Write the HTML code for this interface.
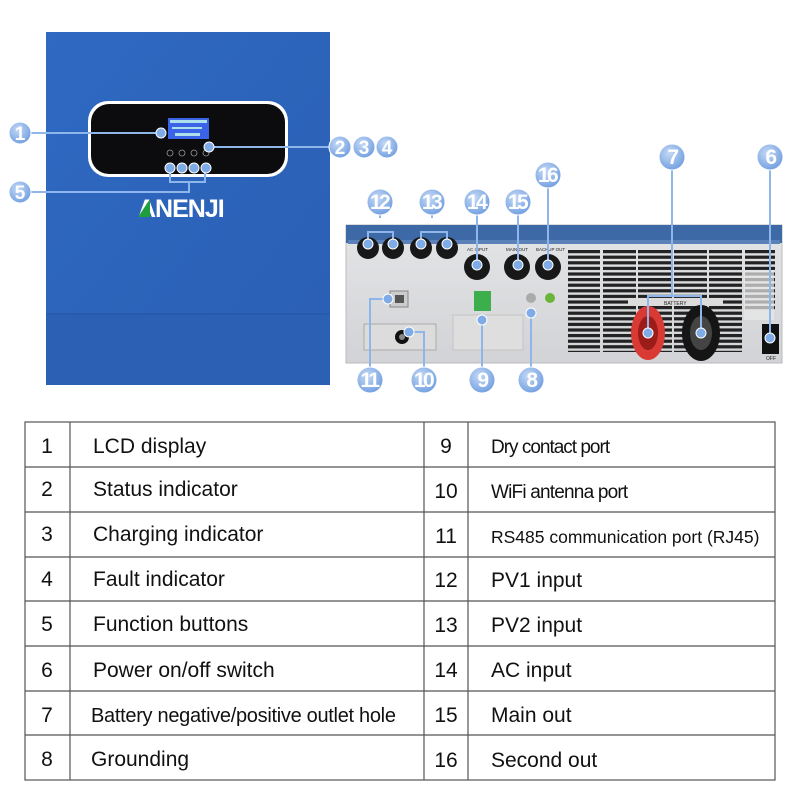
<!DOCTYPE html>
<html><head><meta charset="utf-8"><style>
html,body{margin:0;padding:0;background:#fff;width:800px;height:800px;overflow:hidden}
svg{display:block}
</style></head><body>
<svg width="800" height="800" viewBox="0 0 800 800" xmlns="http://www.w3.org/2000/svg" font-family="Liberation Sans, sans-serif">
<defs>
<linearGradient id="blue" x1="0" y1="0" x2="1" y2="1"><stop offset="0" stop-color="#2f69c2"/><stop offset="1" stop-color="#2a5fb3"/></linearGradient>
<radialGradient id="badge" cx="0.4" cy="0.35" r="0.7"><stop offset="0" stop-color="#c4d9f5"/><stop offset="1" stop-color="#6f9de0"/></radialGradient>
<pattern id="vent" x="0" y="250" width="200" height="5.6" patternUnits="userSpaceOnUse"><rect x="0" y="0" width="200" height="3.2" fill="#222"/></pattern>
<linearGradient id="gray" x1="0" y1="0" x2="0" y2="1"><stop offset="0" stop-color="#e4e5e7"/><stop offset="1" stop-color="#d2d3d6"/></linearGradient>
</defs>
<!-- front inverter -->
<rect x="46" y="32" width="284" height="353" fill="url(#blue)"/>
<rect x="46" y="314" width="284" height="71" fill="#2b60b4"/>
<line x1="46" y1="314" x2="330" y2="314" stroke="#22539f" stroke-width="1"/>
<rect x="88" y="101" width="200" height="76" rx="20" fill="#fff"/>
<rect x="91" y="104" width="194" height="70" rx="18" fill="#0c0c0e"/>
<rect x="168" y="118" width="41" height="21" fill="#3a63e8"/>
<g fill="#cfe" opacity="0.8"><rect x="170" y="120" width="37" height="3"/><rect x="172" y="127" width="30" height="2"/><rect x="175" y="133" width="25" height="3"/></g>
<g fill="none" stroke="#999" stroke-width="0.8"><circle cx="170" cy="153" r="3"/><circle cx="182" cy="153" r="3"/><circle cx="194" cy="153" r="3"/><circle cx="206" cy="153" r="3"/></g>
<text x="138" y="217" font-size="25" font-weight="bold" fill="#fff" letter-spacing="-1">ANENJI</text>
<polygon points="138,217 150,199 150,217" fill="#1e9e3c"/>
<!-- rear panel -->
<rect x="346" y="225" width="436" height="138" fill="url(#gray)" stroke="#bbb"/>
<rect x="346" y="225" width="436" height="18" fill="#3d6aa6"/>
<rect x="348" y="240" width="432" height="4" fill="#5b82b8"/>
<g fill="url(#vent)">
<rect x="568" y="250" width="32" height="102"/><rect x="603" y="250" width="33" height="102"/><rect x="638" y="250" width="34" height="102"/><rect x="674" y="250" width="33" height="102"/><rect x="709" y="250" width="33" height="102"/><rect x="745" y="250" width="30" height="60"/>
</g>
<rect x="744" y="270" width="30" height="50" fill="#e8e8e8" opacity="0.7"/>
<rect x="628" y="298" width="95" height="8" fill="#dcdcdc"/>
<ellipse cx="648" cy="333" rx="17" ry="27" fill="#d93a34"/><ellipse cx="648" cy="333" rx="10" ry="17" fill="#9c1c1a"/>
<ellipse cx="701" cy="333" rx="19" ry="28" fill="#151515"/><ellipse cx="701" cy="333" rx="11" ry="17" fill="#444"/>
<text x="664" y="305" font-size="5" fill="#222">BATTERY</text>
<rect x="762" y="324" width="17" height="30" fill="#111"/>
<text x="766" y="360" font-size="5" fill="#222">OFF</text>
<g fill="#181818">
<circle cx="368" cy="248" r="11"/><circle cx="393" cy="248" r="11"/><circle cx="421" cy="248" r="11"/><circle cx="447" cy="248" r="11"/>
<circle cx="477" cy="267" r="13"/><circle cx="517" cy="267" r="13"/><circle cx="548" cy="267" r="13"/>
</g>
<text x="467" y="251" font-size="4.5" fill="#222">AC INPUT</text><text x="506" y="251" font-size="4.5" fill="#222">MAIN OUT</text><text x="536" y="251" font-size="4.5" fill="#222">BACKUP OUT</text>
<rect x="390" y="291" width="18" height="16" fill="#ccc" stroke="#888"/><rect x="395" y="295" width="9" height="8" fill="#555"/>
<rect x="364" y="324" width="72" height="26" fill="#dcdcdc" stroke="#aaa"/>
<circle cx="402" cy="337" r="7" fill="#111"/><circle cx="402" cy="337" r="3" fill="#888"/>
<rect x="453" y="315" width="70" height="35" fill="#dedede" stroke="#c4c4c4"/>
<rect x="474" y="291" width="17" height="20" fill="#3cae4c"/>
<circle cx="531" cy="298" r="5" fill="#aaa"/><circle cx="550" cy="298" r="5" fill="#6ab43a"/>
<!-- leader lines -->
<g stroke="#8fb6ea" stroke-width="2" fill="none">
<path d="M20 133 H161"/><path d="M340 147 H209"/>
<path d="M20 192 H189 V182 M170 168 V182 H205 V168"/>
<path d="M380 202 V218 M368 244 V232 H393 V244"/>
<path d="M432 202 V218 M421 244 V232 H447 V244"/>
<path d="M477 202 V265"/><path d="M518 202 V265"/><path d="M548 175 V265"/>
<path d="M672 157 V296 M648 333 V296 H701 V333"/>
<path d="M770 157 V338"/>
<path d="M370 380 V299 H386"/><path d="M424 380 V332 H409"/><path d="M482 380 V320"/><path d="M531 380 V313"/>
</g>
<g fill="#7fabe6" stroke="#fff" stroke-width="1">
<circle cx="161" cy="133" r="5"/><circle cx="209" cy="147" r="5"/><circle cx="170" cy="168" r="5"/><circle cx="182" cy="168" r="5"/><circle cx="194" cy="168" r="5"/><circle cx="206" cy="168" r="5"/>
<circle cx="368" cy="244" r="5"/><circle cx="393" cy="244" r="5"/><circle cx="421" cy="244" r="5"/><circle cx="447" cy="244" r="5"/>
<circle cx="477" cy="265" r="5"/><circle cx="518" cy="265" r="5"/><circle cx="548" cy="265" r="5"/>
<circle cx="648" cy="333" r="5"/><circle cx="701" cy="333" r="5"/><circle cx="770" cy="338" r="5"/>
<circle cx="388" cy="299" r="5"/><circle cx="409" cy="332" r="5"/><circle cx="482" cy="320" r="5"/><circle cx="531" cy="313" r="5"/>
</g>
<!-- badges -->
<g font-size="19" font-weight="bold" fill="#fff" text-anchor="middle">
<g fill="url(#badge)" stroke="#fff" stroke-width="1">
<circle cx="20" cy="133" r="11"/><circle cx="340" cy="147" r="11"/><circle cx="364" cy="147" r="11"/><circle cx="387" cy="147" r="11"/><circle cx="20" cy="192" r="11"/>
<circle cx="380" cy="202" r="13"/><circle cx="432" cy="202" r="13"/><circle cx="477" cy="202" r="13"/><circle cx="518" cy="202" r="13"/><circle cx="548" cy="175" r="13"/><circle cx="672" cy="157" r="13"/><circle cx="770" cy="157" r="13"/>
<circle cx="370" cy="380" r="13"/><circle cx="424" cy="380" r="13"/><circle cx="482" cy="380" r="13"/><circle cx="531" cy="380" r="13"/>
</g>
<text x="20" y="140">1</text><text x="340" y="154">2</text><text x="364" y="154">3</text><text x="387" y="154">4</text><text x="20" y="199">5</text>
<g font-size="21" letter-spacing="-2.5"><text x="379" y="209">12</text><text x="431" y="209">13</text><text x="476" y="209">14</text><text x="517" y="209">15</text><text x="547" y="182">16</text><text x="672" y="164">7</text><text x="770" y="164">6</text>
<text x="369" y="387">11</text><text x="423" y="387">10</text><text x="482" y="387">9</text><text x="531" y="387">8</text></g>
</g>
<!-- table -->
<g stroke="#555" stroke-width="1.2" fill="none">
<rect x="25" y="422" width="750" height="358"/>
<line x1="70" y1="422" x2="70" y2="780"/><line x1="424" y1="422" x2="424" y2="780"/><line x1="468" y1="422" x2="468" y2="780"/>
<line x1="25" y1="467" x2="775" y2="467"/><line x1="25" y1="512" x2="775" y2="512"/><line x1="25" y1="557" x2="775" y2="557"/><line x1="25" y1="601" x2="775" y2="601"/><line x1="25" y1="646" x2="775" y2="646"/><line x1="25" y1="691" x2="775" y2="691"/><line x1="25" y1="735" x2="775" y2="735"/>
</g>
<g font-size="21" fill="#111">
<g text-anchor="middle"><text x="47" y="453">1</text><text x="47" y="496">2</text><text x="47" y="541">3</text><text x="47" y="586">4</text><text x="47" y="631">5</text><text x="47" y="677">6</text><text x="47" y="722">7</text><text x="47" y="766">8</text>
<text x="446" y="453">9</text><text x="446" y="498">10</text><text x="446" y="543">11</text><text x="446" y="587">12</text><text x="446" y="632">13</text><text x="446" y="677">14</text><text x="446" y="722">15</text><text x="446" y="767">16</text></g>
<text x="93" y="453">LCD display</text><text x="93" y="496">Status indicator</text><text x="93" y="541">Charging indicator</text><text x="93" y="586">Fault indicator</text><text x="93" y="631">Function buttons</text><text x="93" y="677">Power on/off switch</text>
<text x="91" y="722" font-size="20" letter-spacing="-0.3">Battery negative/positive outlet hole</text><text x="91" y="766">Grounding</text>
<text x="491" y="453" font-size="19" letter-spacing="-1">Dry contact port</text><text x="491" y="498" font-size="19" letter-spacing="-0.8">WiFi antenna port</text>
<text x="491" y="543" font-size="17.5">RS485 communication port (RJ45)</text>
<text x="491" y="587">PV1 input</text><text x="491" y="632">PV2 input</text><text x="491" y="677">AC input</text><text x="491" y="722">Main out</text><text x="491" y="767">Second out</text>
</g>
</svg>
</body></html>
